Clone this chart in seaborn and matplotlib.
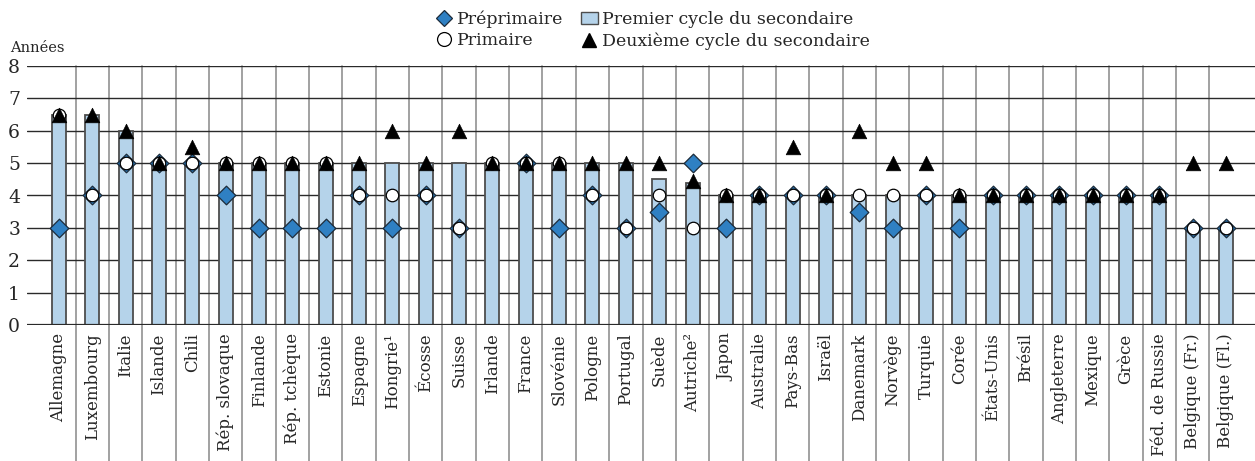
import numpy as np
import pandas as pd
import seaborn as sns
import matplotlib.pyplot as plt
from matplotlib.lines import Line2D
from matplotlib.patches import Patch

# Données (années)
pays = ['Allemagne', 'Luxembourg', 'Italie', 'Islande', 'Chili', 'Rép. slovaque', 'Finlande',
        'Rép. tchèque', 'Estonie', 'Espagne', 'Hongrie¹', 'Écosse', 'Suisse', 'Irlande', 'France',
        'Slovénie', 'Pologne', 'Portugal', 'Suède', 'Autriche²', 'Japon', 'Australie', 'Pays-Bas',
        'Israël', 'Danemark', 'Norvège', 'Turquie', 'Corée', 'États-Unis', 'Brésil', 'Angleterre',
        'Mexique', 'Grèce', 'Féd. de Russie', 'Belgique (Fr.)', 'Belgique (Fl.)']
preprimaire = [3, 4, 5, 5, 5, 4, 3, 3, 3, 4, 3, 4, 3, np.nan, 5, 3, 4, 3, 3.5, 5,
               3, 4, 4, 4, 3.5, 3, 4, 3, 4, 4, 4, 4, 4, 4, 3, 3]
primaire = [6.5, 4, 5, 5, 5, 5, 5, 5, 5, 4, 4, 4, 3, 5, 5, 5, 4, 3, 4, 3,
            4, 4, 4, 4, 4, 4, 4, 4, 4, 4, 4, 4, 4, 4, 3, 3]
premier_cycle = [6.5, 6.5, 6, 5, 5, 5, 5, 5, 5, 5, 5, 5, 5, 5, 5, 5, 5, 5, 4.5, 4.4,
                 4, 4, 4, 4, 4, 4, 4, 4, 4, 4, 4, 4, 4, 4, 3, 3]
deuxieme_cycle = [6.5, 6.5, 6, 5, 5.5, 5, 5, 5, 5, 5, 6, 5, 6, 5, 5, 5, 5, 5, 5, 4.45,
                  4, 4, 5.5, 4, 6, 5, 5, 4, 4, 4, 4, 4, 4, 4, 5, 5]

df = pd.DataFrame({'pays': pays, 'pre': preprimaire, 'prim': primaire,
                   'sec1': premier_cycle, 'sec2': deuxieme_cycle})

sns.set_style('white')
plt.rcParams['font.family'] = ['DejaVu Serif']

fig = plt.figure(figsize=(12.55, 4.61), dpi=100)
ax = fig.add_axes([27 / 1255, 1 - 325 / 461, 1 - 27 / 1255, 259 / 461])

bleu_clair = '#b5d3ea'
bleu = '#2f80c3'

sns.barplot(data=df, x='pays', y='sec1', order=pays, color=bleu_clair, width=0.42,
            edgecolor='#4d4d4d', linewidth=1.3, saturation=1, zorder=2, ax=ax)
sns.stripplot(data=df, x='pays', y='pre', order=pays, jitter=False, marker='D', size=9.5,
              color=bleu, edgecolor='#1c2b3a', linewidth=0.9, zorder=3, ax=ax)
sns.stripplot(data=df, x='pays', y='prim', order=pays, jitter=False, marker='o', size=9,
              color='white', edgecolor='black', linewidth=0.9, zorder=4, ax=ax)
sns.stripplot(data=df, x='pays', y='sec2', order=pays, jitter=False, marker='^', size=10.5,
              color='black', edgecolor='black', linewidth=0.5, zorder=5, ax=ax)

n = len(pays)
ax.set_xlim(-0.96, n - 1 + 0.87)
ax.set_ylim(0, 8)
ax.set_yticks(range(0, 9))
for y in range(1, 9):
    ax.axhline(y, color='#2a2a2a', lw=1.0, zorder=1)
ax.axhline(0, color='#2a2a2a', lw=1.6, zorder=6)

# séparateurs verticaux prolongés sous l'axe
for i in range(n - 1):
    ax.axvline(i + 0.5, ymin=-136 / 259, ymax=1, color='#9a9a9a', lw=1.3,
               clip_on=False, zorder=0)

for s in ax.spines.values():
    s.set_visible(False)
ax.tick_params(axis='both', length=0)
ax.tick_params(axis='y', labelsize=13.5, pad=5)
ax.tick_params(axis='x', labelsize=12, pad=6, labelrotation=90)
ax.set_xlabel('')
ax.set_ylabel('')

fig.text(10 / 1255, 1 - 48 / 461, 'Années', fontsize=10.5, va='center', ha='left')

handles = [
    Line2D([], [], ls='none', marker='D', ms=8, mfc=bleu, mec='#1c2b3a', mew=0.9),
    Line2D([], [], ls='none', marker='o', ms=10, mfc='white', mec='black', mew=0.9),
    Patch(facecolor=bleu_clair, edgecolor='#4d4d4d', linewidth=1.0),
    Line2D([], [], ls='none', marker='^', ms=10, mfc='black', mec='black'),
]
labels = ['Préprimaire', 'Primaire', 'Premier cycle du secondaire', 'Deuxième cycle du secondaire']
fig.legend(handles, labels, loc='upper center', bbox_to_anchor=(0.52, 1.0), ncol=2,
           frameon=False, fontsize=12.5, handlelength=1.0, handletextpad=0.25,
           columnspacing=1.0, labelspacing=0.25, borderaxespad=0.2)

fig.savefig('out.png', dpi=100)
